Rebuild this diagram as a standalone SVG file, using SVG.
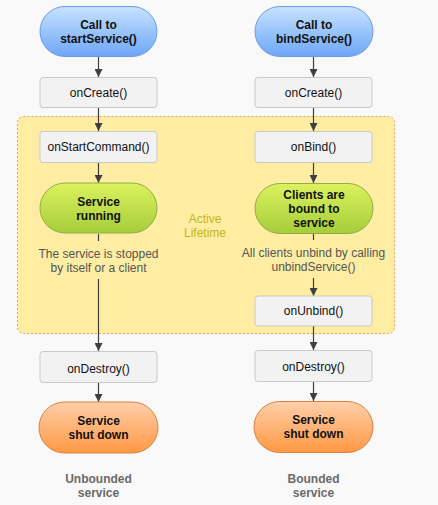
<svg xmlns="http://www.w3.org/2000/svg" width="438" height="505" viewBox="0 0 438 505">
<defs>
<linearGradient id="gBlue" x1="0" y1="0" x2="0" y2="1"><stop offset="0" stop-color="#c6e3ff"/><stop offset="1" stop-color="#6ea6f6"/></linearGradient>
<linearGradient id="gGreen" x1="0" y1="0" x2="0" y2="1"><stop offset="0" stop-color="#dcf25e"/><stop offset="1" stop-color="#a6cd3a"/></linearGradient>
<linearGradient id="gOrange" x1="0" y1="0" x2="0" y2="1"><stop offset="0" stop-color="#ffcfaa"/><stop offset="1" stop-color="#ff9843"/></linearGradient>
<marker id="arr" viewBox="0 0 10 10" refX="10" refY="5" markerWidth="8" markerHeight="8" markerUnits="userSpaceOnUse" orient="auto"><path d="M0,0 L10,5 L0,10 z" fill="#3f3f3f"/></marker>
</defs>
<style>
text{font-family:"Liberation Sans",Arial,sans-serif;font-size:12px;text-anchor:middle}
.b{font-weight:bold;fill:#111}
.r{fill:#111}
.note{fill:#555}
.cap{font-weight:bold;fill:#6a6a6a}
.box{fill:#f2f2f2;stroke:#c9c9c9;stroke-width:1}
.blue{fill:url(#gBlue);stroke:#6b9be0}
.green{fill:url(#gGreen);stroke:#8fae45}
.orange{fill:url(#gOrange);stroke:#d98040}
.c{stroke:#3f3f3f;stroke-width:1.2;fill:none}
</style>
<rect x="0" y="0" width="438" height="505" fill="#f9f9f9"/>
<g id="active-lifetime">
<rect x="17.5" y="116.5" width="377" height="217" rx="6" fill="#feeda3" stroke="#e3a456" stroke-width="1" stroke-dasharray="2 2"/>
<text x="205" y="222.5" fill="#c2b714">Active</text>
<text x="205" y="236.5" fill="#c2b714">Lifetime</text>
</g>
<g id="connectors">
<line class="c" x1="98.5" y1="57" x2="98.5" y2="77" marker-end="url(#arr)"/>
<line class="c" x1="98.5" y1="108" x2="98.5" y2="131" marker-end="url(#arr)"/>
<line class="c" x1="98.5" y1="163" x2="98.5" y2="183" marker-end="url(#arr)"/>
<line class="c" x1="98.5" y1="234" x2="98.5" y2="241"/>
<line class="c" x1="98.5" y1="279" x2="98.5" y2="351" marker-end="url(#arr)"/>
<line class="c" x1="98.5" y1="383" x2="98.5" y2="402" marker-end="url(#arr)"/>
<line class="c" x1="313.5" y1="57" x2="313.5" y2="77" marker-end="url(#arr)"/>
<line class="c" x1="313.5" y1="108" x2="313.5" y2="131" marker-end="url(#arr)"/>
<line class="c" x1="313.5" y1="163" x2="313.5" y2="183" marker-end="url(#arr)"/>
<line class="c" x1="313.5" y1="234" x2="313.5" y2="240"/>
<line class="c" x1="313.5" y1="278" x2="313.5" y2="296" marker-end="url(#arr)"/>
<line class="c" x1="313.5" y1="326" x2="313.5" y2="350" marker-end="url(#arr)"/>
<line class="c" x1="313.5" y1="382" x2="313.5" y2="401" marker-end="url(#arr)"/>
</g>
<g id="call-start">
<rect class="blue" x="40" y="6.5" width="117" height="50" rx="25"/>
<text class="b" x="98.5" y="29">Call to</text>
<text class="b" x="98.5" y="43">startService()</text>
</g>
<g id="oncreate-left">
<rect class="box" x="40" y="77.5" width="117" height="30" rx="3"/>
<text class="r" x="98.5" y="97">onCreate()</text>
</g>
<g id="onstartcommand">
<rect class="box" x="40" y="131.5" width="117" height="31" rx="3"/>
<text class="r" x="98.5" y="151">onStartCommand()</text>
</g>
<g id="service-running">
<rect class="green" x="40" y="183" width="117" height="50" rx="25"/>
<text class="b" x="98.5" y="206">Service</text>
<text class="b" x="98.5" y="220">running</text>
</g>
<g id="note-left">
<text class="note" x="98.5" y="257.5">The service is stopped</text>
<text class="note" x="98.5" y="272">by itself or a client</text>
</g>
<g id="ondestroy-left">
<rect class="box" x="40" y="351.5" width="117" height="31" rx="3"/>
<text class="r" x="98.5" y="372.5">onDestroy()</text>
</g>
<g id="shutdown-left">
<rect class="orange" x="39" y="402" width="119" height="51" rx="25.5"/>
<text class="b" x="98.5" y="425">Service</text>
<text class="b" x="98.5" y="439">shut down</text>
</g>
<g id="caption-left">
<text class="cap" x="98.5" y="483">Unbounded</text>
<text class="cap" x="98.5" y="497">service</text>
</g>
<g id="call-bind">
<rect class="blue" x="255" y="6.5" width="118" height="50" rx="25"/>
<text class="b" x="314" y="29">Call to</text>
<text class="b" x="314" y="43">bindService()</text>
</g>
<g id="oncreate-right">
<rect class="box" x="255" y="77.5" width="117" height="30" rx="3"/>
<text class="r" x="313.5" y="97">onCreate()</text>
</g>
<g id="onbind">
<rect class="box" x="255" y="131.5" width="117" height="31" rx="3"/>
<text class="r" x="313.5" y="151">onBind()</text>
</g>
<g id="clients-bound">
<rect class="green" x="255" y="183.5" width="118" height="50" rx="25"/>
<text class="b" x="314" y="199">Clients are</text>
<text class="b" x="314" y="213">bound to</text>
<text class="b" x="314" y="227">service</text>
</g>
<g id="note-right">
<text class="note" x="313.5" y="256.5">All clients unbind by calling</text>
<text class="note" x="313.5" y="271">unbindService()</text>
</g>
<g id="onunbind">
<rect class="box" x="255" y="296" width="117" height="30" rx="3"/>
<text class="r" x="313.5" y="315">onUnbind()</text>
</g>
<g id="ondestroy-right">
<rect class="box" x="255" y="350.5" width="117" height="31" rx="3"/>
<text class="r" x="313.5" y="370.5">onDestroy()</text>
</g>
<g id="shutdown-right">
<rect class="orange" x="254" y="401.5" width="119" height="51" rx="25.5"/>
<text class="b" x="313.5" y="424">Service</text>
<text class="b" x="313.5" y="438">shut down</text>
</g>
<g id="caption-right">
<text class="cap" x="313.5" y="483">Bounded</text>
<text class="cap" x="313.5" y="497">service</text>
</g>
</svg>
